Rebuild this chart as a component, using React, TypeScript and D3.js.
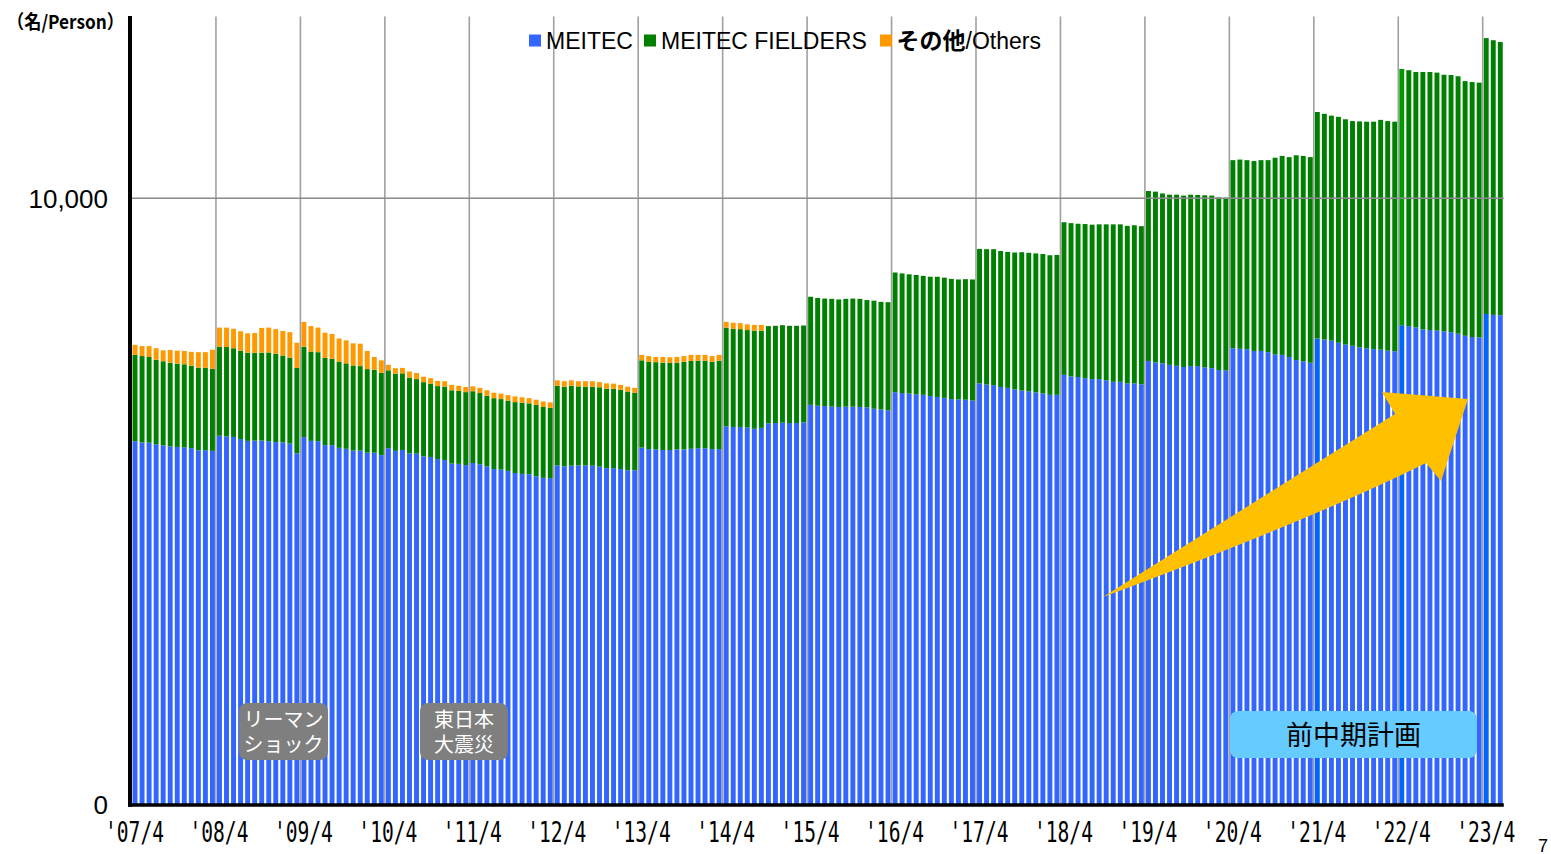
import React, { useEffect } from 'react';
import * as d3 from 'd3';

const W = 1551;
const H = 854;

// Monthly headcount, Apr 2007 .. Jun 2023 (persons)
const meitec = [
  5990, 5970, 5965, 5940, 5920, 5905, 5895, 5890, 5875, 5840, 5840, 5830,
  6080, 6070, 6060, 6025, 5995, 6000, 6000, 5990, 5975, 5970, 5950, 5790,
  6060, 5995, 5990, 5925, 5925, 5880, 5865, 5835, 5835, 5800, 5800, 5760,
  5875, 5830, 5845, 5790, 5785, 5740, 5730, 5695, 5680, 5620, 5615, 5595,
  5630, 5610, 5575, 5530, 5520, 5500, 5465, 5450, 5445, 5410, 5385, 5380,
  5590, 5575, 5585, 5590, 5590, 5585, 5570, 5545, 5545, 5530, 5510, 5510,
  5885, 5860, 5855, 5845, 5845, 5855, 5855, 5865, 5875, 5875, 5860, 5860,
  6235, 6225, 6225, 6215, 6195, 6210, 6285, 6290, 6295, 6290, 6290, 6300,
  6590, 6575, 6570, 6560, 6555, 6560, 6560, 6555, 6550, 6525, 6515, 6500,
  6800, 6785, 6775, 6765, 6755, 6735, 6720, 6705, 6685, 6680, 6675, 6660,
  6945, 6925, 6915, 6885, 6870, 6845, 6825, 6815, 6795, 6780, 6755, 6755,
  7085, 7060, 7050, 7030, 7015, 7015, 6995, 6970, 6970, 6945, 6945, 6930,
  7315, 7290, 7275, 7250, 7235, 7215, 7230, 7230, 7210, 7195, 7165, 7155,
  7525, 7515, 7510, 7480, 7480, 7460, 7420, 7415, 7380, 7330, 7310, 7285,
  7685, 7670, 7650, 7615, 7585, 7565, 7540, 7525, 7510, 7500, 7485, 7475,
  7905, 7890, 7870, 7835, 7825, 7815, 7805, 7790, 7765, 7730, 7710, 7705,
  8090, 8075, 8070,
];

const fielders = [
  1425, 1425, 1415, 1395, 1390, 1380, 1375, 1370, 1360, 1365, 1360, 1355,
  1470, 1475, 1465, 1460, 1455, 1450, 1450, 1465, 1460, 1435, 1420, 1410,
  1490, 1475, 1470, 1440, 1425, 1425, 1410, 1405, 1395, 1380, 1370, 1360,
  1285, 1275, 1265, 1250, 1230, 1225, 1210, 1205, 1210, 1210, 1205, 1205,
  1185, 1175, 1165, 1170, 1165, 1160, 1170, 1175, 1170, 1180, 1170, 1160,
  1315, 1315, 1320, 1305, 1300, 1305, 1310, 1310, 1310, 1310, 1300, 1280,
  1440, 1440, 1440, 1440, 1440, 1430, 1445, 1450, 1445, 1445, 1440, 1460,
  1630, 1620, 1615, 1610, 1620, 1605, 1605, 1605, 1610, 1605, 1605, 1600,
  1785, 1780, 1775, 1780, 1775, 1780, 1785, 1785, 1770, 1785, 1775, 1785,
  1975, 1975, 1970, 1970, 1965, 1970, 1985, 1985, 1985, 1980, 1990, 2000,
  2220, 2235, 2245, 2245, 2245, 2260, 2285, 2285, 2295, 2300, 2305, 2310,
  2520, 2530, 2530, 2545, 2550, 2555, 2575, 2600, 2600, 2600, 2610, 2610,
  2805, 2820, 2805, 2810, 2825, 2830, 2830, 2825, 2840, 2850, 2850, 2855,
  3105, 3125, 3120, 3135, 3150, 3170, 3250, 3285, 3300, 3380, 3390, 3395,
  3740, 3725, 3715, 3730, 3720, 3710, 3730, 3740, 3755, 3795, 3790, 3790,
  4230, 4225, 4215, 4250, 4260, 4260, 4235, 4245, 4250, 4205, 4210, 4205,
  4555, 4535, 4510,
];

const others = [
  165, 165, 180, 190, 180, 210, 215, 220, 230, 255, 260, 315,
  315, 320, 320, 320, 320, 325, 410, 410, 405, 405, 420, 415,
  410, 420, 405, 415, 410, 380, 380, 365, 370, 300, 210, 205,
  90, 90, 90, 100, 100, 90, 90, 85, 90, 90, 85, 85,
  80, 85, 90, 90, 90, 90, 95, 90, 85, 85, 90, 90,
  90, 90, 90, 85, 90, 90, 85, 90, 85, 80, 80, 80,
  90, 95, 85, 95, 90, 95, 95, 100, 95, 95, 95, 95,
  95, 100, 100, 95, 95, 95, 0, 0, 0, 0, 0, 0,
  0, 0, 0, 0, 0, 0, 0, 0, 0, 0, 0, 0,
  0, 0, 0, 0, 0, 0, 0, 0, 0, 0, 0, 0,
  0, 0, 0, 0, 0, 0, 0, 0, 0, 0, 0, 0,
  0, 0, 0, 0, 0, 0, 0, 0, 0, 0, 0, 0,
  0, 0, 0, 0, 0, 0, 0, 0, 0, 0, 0, 0,
  0, 0, 0, 0, 0, 0, 0, 0, 0, 0, 0, 0,
  0, 0, 0, 0, 0, 0, 0, 0, 0, 0, 0, 0,
  0, 0, 0, 0, 0, 0, 0, 0, 0, 0, 0, 0,
  0, 0, 0,
];

const yearTicks = [
  "'07/4", "'08/4", "'09/4", "'10/4", "'11/4", "'12/4", "'13/4", "'14/4", "'15/4",
  "'16/4", "'17/4", "'18/4", "'19/4", "'20/4", "'21/4", "'22/4", "'23/4",
];
const yTicks = [0, 10000];
const seriesKeys = ['meitec', 'fielders', 'others'];
const seriesColors: Record<string, string> = { meitec: '#3366ff', fielders: '#008000', others: '#ff9900' };
const blueHighlight = ['2021/4', '2022/4', '2023/4'];
const greenHighlight = ['2022/4'];

// month keys (labels only)
const months = meitec.map((_, i) => {
  const m = 3 + i;
  return `${2007 + Math.floor(m / 12)}/${(m % 12) + 1}`;
});

const SANS = '"Liberation Sans", Arial, sans-serif';
const CJK = '"Noto Sans CJK JP", "Noto Sans", sans-serif';
const MONO = '"DejaVu Sans Mono", "Liberation Mono", monospace';

export default function App() {
  useEffect(() => {
    document.body.style.margin = '0';
    document.body.style.overflow = 'hidden';
  }, []);

  const left = 131.5;
  const monthStep = 7.0375;
  const x = d3
    .scaleBand<string>()
    .domain(months)
    .range([left, left + months.length * monthStep])
    .paddingInner(0.3)
    .paddingOuter(0.15);
  const y = d3.scaleLinear().domain([0, 13000]).range([804, 16.6]);

  const table = months.map((m, i) => ({ month: m, meitec: meitec[i], fielders: fielders[i], others: others[i] }));
  const stacked = d3.stack<any>().keys(seriesKeys)(table);
  const step = x.step();
  const gridX = (k: number) => (x(months[k * 12]) as number) - x.paddingOuter() * step;
  const rightEdge = left + months.length * monthStep;

  const colorFor = (key: string, month: string) => {
    if (key === 'meitec' && blueHighlight.includes(month)) return '#0066ff';
    if (key === 'fielders' && greenHighlight.includes(month)) return '#009a00';
    return seriesColors[key];
  };

  // arrow annotation
  const arrowPath =
    'M1103,597 L1395,414 L1382,392 L1468,399 L1441,481 L1426,463 Q1318,517 1103,597 Z';

  return (
    <svg width={W} height={H} style={{ position: 'absolute', left: 0, top: 0, background: '#fff' }}>
      <rect x={0} y={0} width={W} height={H} fill="#ffffff" />
      {/* bars */}
      {stacked.map((layer) => (
        <g key={layer.key}>
          {layer.map((d: any, i: number) => {
            const h = y(d[0]) - y(d[1]);
            if (h <= 0) return null;
            const m = months[i];
            return (
              <rect
                key={m}
                x={x(m)}
                y={y(d[1])}
                width={x.bandwidth()}
                height={h}
                fill={colorFor(layer.key, m)}
              />
            );
          })}
        </g>
      ))}

      {/* vertical year gridlines */}
      {yearTicks.map((t, k) =>
        k === 0 ? null : (
          <line key={t} x1={gridX(k)} x2={gridX(k)} y1={16.6} y2={804} stroke="#a0a0a0" strokeWidth={1.6} />
        )
      )}
      {/* horizontal gridline */}
      {yTicks
        .filter((v) => v > 0)
        .map((v) => (
          <line key={v} x1={130} x2={rightEdge} y1={y(v)} y2={y(v)} stroke="#8a8a8a" strokeWidth={1.6} />
        ))}

      {/* axes */}
      <line x1={130} x2={130} y1={16} y2={806.8} stroke="#000" strokeWidth={4} />
      <line x1={128} x2={rightEdge} y1={805} y2={805} stroke="#000" strokeWidth={3.5} />

      {/* y tick labels */}
      {yTicks.map((v) => (
        <text key={v} x={108} y={y(v) + 9.5} textAnchor="end" fontFamily={SANS} fontSize={26} fill="#000">
          {d3.format(',')(v)}
        </text>
      ))}

      {/* x tick labels */}
      {yearTicks.map((t, k) => (
        <text
          key={t}
          x={gridX(k) + 3 - 29.5}
          y={841.5}
          fontFamily={MONO}
          fontSize={28}
          textLength={59}
          lengthAdjust="spacingAndGlyphs"
          fill="#000"
        >
          {t}
        </text>
      ))}

      {/* unit label */}
      <text x={7} y={29} fontFamily={CJK} fontSize={19} fontWeight="bold" textLength={117} lengthAdjust="spacingAndGlyphs" fill="#000">
        （名/Person）
      </text>

      {/* legend */}
      <rect x={529} y={34.5} width={12} height={12} fill={seriesColors.meitec} />
      <text x={546} y={49} fontFamily={SANS} fontSize={23} fill="#000">MEITEC</text>
      <rect x={644} y={34.5} width={12} height={12} fill={seriesColors.fielders} />
      <text x={661} y={49} fontFamily={SANS} fontSize={23} fill="#000">MEITEC FIELDERS</text>
      <rect x={880} y={34.5} width={12} height={12} fill={seriesColors.others} />
      <text x={896.5} y={49} fontSize={23} fill="#000">
        <tspan fontFamily={CJK} fontWeight="bold">その他</tspan>
        <tspan fontFamily={SANS}>/Others</tspan>
      </text>

      {/* arrow */}
      <path d={arrowPath} fill="#ffc000" />

      {/* event annotations */}
      <rect x={239} y={703} width={89} height={57} rx={8} fill="#7f7f7f" />
      <text textAnchor="middle" fontFamily={CJK} fontSize={20} fill="#fff">
        <tspan x={283.5} y={727}>リーマン</tspan>
        <tspan x={283.5} y={752}>ショック</tspan>
      </text>

      <rect x={420} y={703} width={88} height={57} rx={8} fill="#7f7f7f" />
      <text textAnchor="middle" fontFamily={CJK} fontSize={20} fill="#fff">
        <tspan x={464} y={727}>東日本</tspan>
        <tspan x={464} y={752}>大震災</tspan>
      </text>

      <rect x={1230} y={711} width={247} height={47} rx={8} fill="#66ccff" />
      <text x={1353.5} y={744.5} textAnchor="middle" fontFamily={CJK} fontSize={27} fill="#000">前中期計画</text>

      {/* page number */}
      <text x={1538} y={852} fontFamily={SANS} fontSize={18} fill="#000">7</text>
    </svg>
  );
}
